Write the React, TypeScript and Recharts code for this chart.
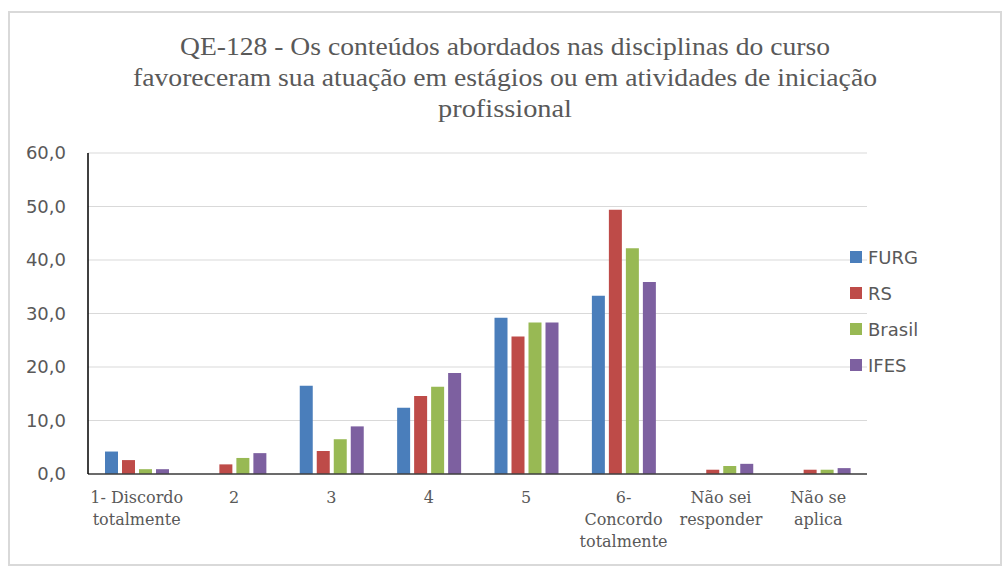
import React from 'react';
import { BarChart, Bar, XAxis, YAxis, CartesianGrid } from 'recharts';

const categories = [
  '1- Discordo\ntotalmente',
  '2',
  '3',
  '4',
  '5',
  '6-\nConcordo\ntotalmente',
  'Não sei\nresponder',
  'Não se\naplica',
];
const furg = [4.2, 0, 16.5, 12.4, 29.2, 33.3, 0, 0];
const rs = [2.6, 1.8, 4.3, 14.6, 25.7, 49.4, 0.8, 0.8];
const brasil = [0.9, 3.0, 6.5, 16.3, 28.3, 42.2, 1.5, 0.8];
const ifes = [0.9, 3.9, 8.9, 18.9, 28.3, 35.9, 1.9, 1.1];
const yTicks = [0, 10, 20, 30, 40, 50, 60];
const titleLines = [
  'QE-128 - Os conteúdos abordados nas disciplinas do curso',
  'favoreceram sua atuação em estágios ou em atividades de iniciação',
  'profissional',
];
const titleWidths = [650, 744, 134];

const series = [
  { key: 'FURG', values: furg, color: '#4a7ebb' },
  { key: 'RS', values: rs, color: '#be4b48' },
  { key: 'Brasil', values: brasil, color: '#98b954' },
  { key: 'IFES', values: ifes, color: '#7d60a0' },
];

const data = categories.map((c, i) => {
  const row: any = { name: c };
  series.forEach((s) => (row[s.key] = s.values[i]));
  return row;
});

const CatTick = (props: any) => {
  const { x, y, payload } = props;
  const lines = String(payload.value).split('\n');
  return (
    <text
      x={x}
      y={y}
      textAnchor="middle"
      fill="#595959"
      fontFamily="'DejaVu Serif', serif"
      fontSize={16}
    >
      {lines.map((l, i) => (
        <tspan key={i} x={x} dy={i === 0 ? 21 : 22}>
          {l}
        </tspan>
      ))}
    </text>
  );
};

export default function App() {
  return (
    <div style={{ position: 'absolute', left: 0, top: 0, width: 1003, height: 568, background: '#fff' }}>
      <div
        style={{
          position: 'absolute',
          left: 8,
          top: 11,
          width: 990,
          height: 551,
          border: '2px solid #d9d9d9',
        }}
      />
      <svg style={{ position: 'absolute', left: 0, top: 0 }} width={1003} height={130}>
        {titleLines.map((t, i) => (
          <text
            key={i}
            x={505}
            y={55 + i * 31}
            textAnchor="middle"
            fill="#595959"
            fontFamily="'Liberation Serif', serif"
            fontSize={25}
            textLength={titleWidths[i]}
            lengthAdjust="spacingAndGlyphs"
          >
            {t}
          </text>
        ))}
      </svg>
      <div style={{ position: 'absolute', left: 0, top: 0 }}>
        <BarChart
          width={1003}
          height={568}
          data={data}
          margin={{ top: 153, right: 136, bottom: 34, left: 10 }}
          barGap={4}
          barSize={13}
        >
          <CartesianGrid vertical={false} stroke="#d9d9d9" strokeWidth={1} />
          <XAxis
            dataKey="name"
            tick={<CatTick />}
            tickLine={false}
            axisLine={{ stroke: '#404040', strokeWidth: 1.5 }}
            interval={0}
            height={60}
          />
          <YAxis
            domain={[0, 60]}
            ticks={yTicks}
            width={78}
            tickLine={false}
            tickSize={0}
            tickMargin={22}
            axisLine={{ stroke: '#000', strokeWidth: 1.5 }}
            tickFormatter={(v: number) => v.toFixed(1).replace('.', ',')}
            tick={{ fill: '#595959', fontFamily: "'DejaVu Sans', sans-serif", fontSize: 18 }}
          />
          {series.map((s) => (
            <Bar key={s.key} dataKey={s.key} fill={s.color} isAnimationActive={false} />
          ))}
        </BarChart>
      </div>
      <div style={{ position: 'absolute', left: 850, top: 239 }}>
        {series.map((s) => (
          <div key={s.key} style={{ display: 'flex', alignItems: 'center', height: 36 }}>
            <div style={{ width: 12, height: 12, background: s.color, marginRight: 6 }} />
            <span style={{ fontFamily: "'DejaVu Sans', sans-serif", fontSize: 18, color: '#595959' }}>
              {s.key}
            </span>
          </div>
        ))}
      </div>
    </div>
  );
}
